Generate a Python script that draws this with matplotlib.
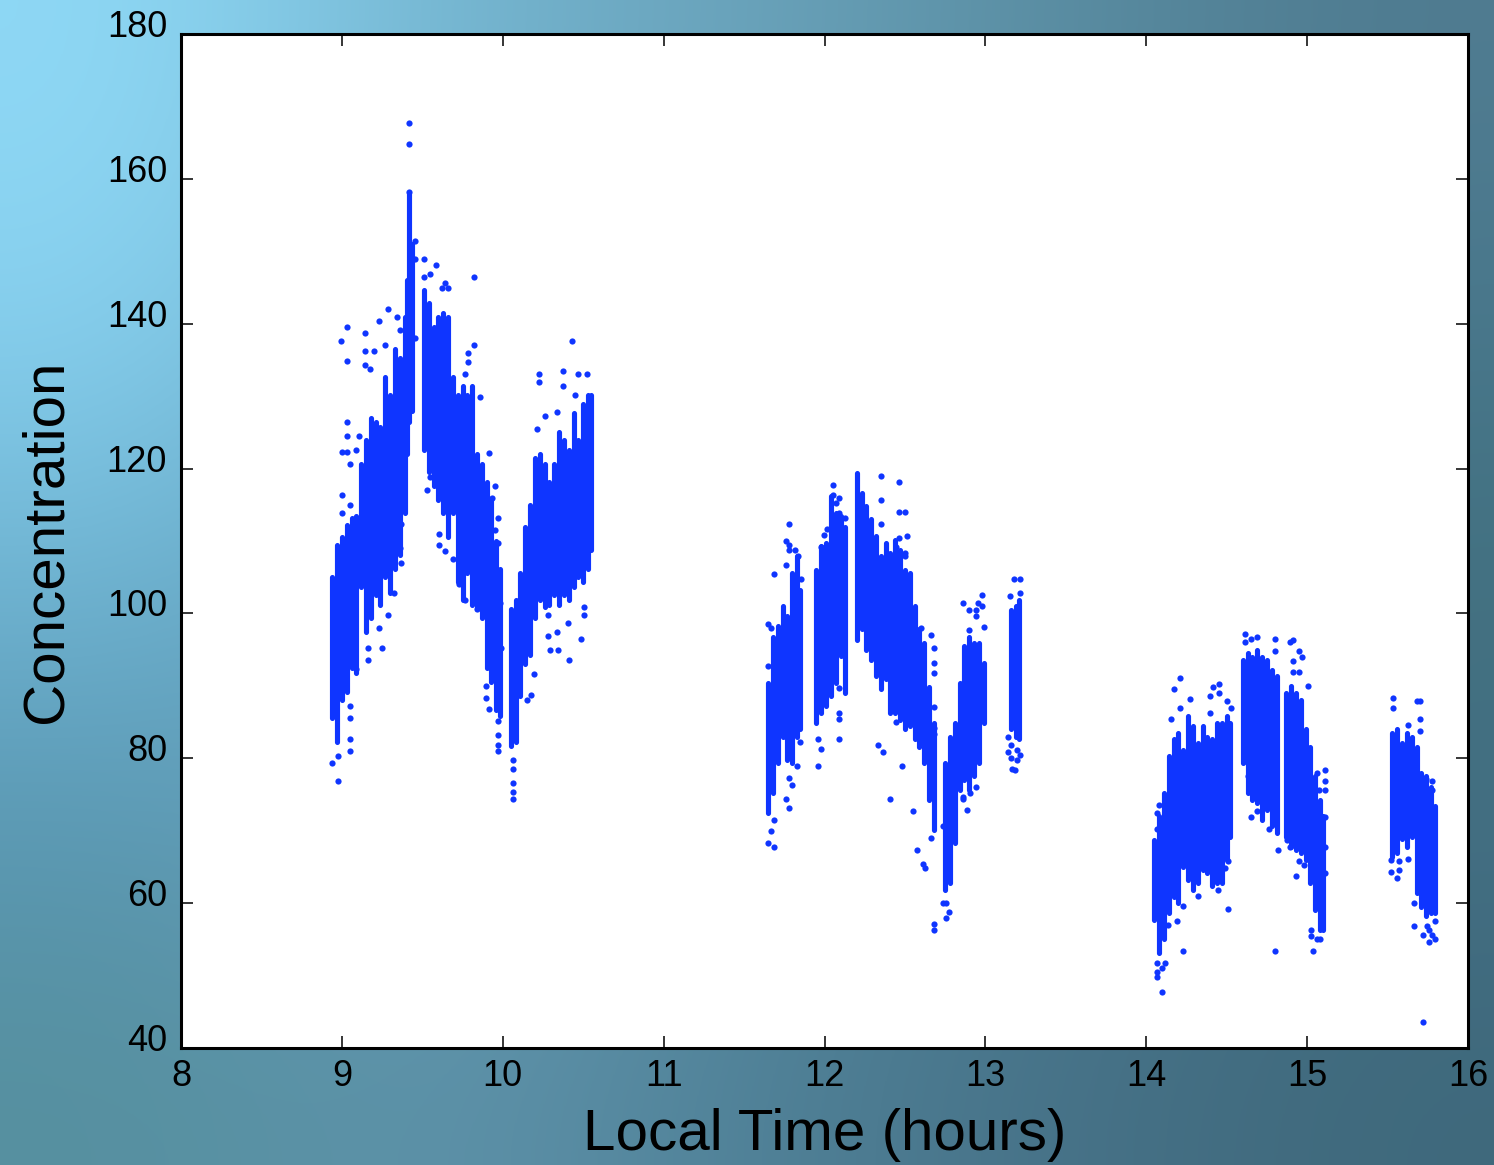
import numpy as np
import matplotlib
matplotlib.use("Agg")
import matplotlib.pyplot as plt

# Dense core of each time column: x, upper edge, lower edge
a_x = [8.94,8.97,9.0,9.03,9.06,9.09,9.12,9.15,9.18,9.21,9.24,9.27,9.3,9.33,9.36,9.39,9.405,9.42,9.435,9.51,9.54,9.57,9.6,9.63,9.66,9.69,9.72,9.75,9.78,9.81,9.84,9.87,9.9,9.93,9.96,9.98,10.05,10.08,10.11,10.14,10.17,10.2,10.23,10.26,10.29,10.32,10.35,10.38,10.41,10.44,10.47,10.5,10.53,10.55]
a_hi = [105,109.4,110.6,112.2,113.2,113.5,120.7,123.9,127,126.4,125.8,132.7,130.2,136.5,135.2,140.9,146,157.9,151,144.7,142.8,139.6,140.9,141.5,140.9,132.7,130.2,131.4,130.2,131.4,122,120.7,118.2,115.7,110,106.2,100.6,101.8,105.6,111.9,115,121.4,122,120.7,118.2,120.7,125.1,123.9,122.6,127.7,123.9,128.9,130.2,130.2]
a_lo = [85.5,82.3,88,89.2,92.4,91.8,103.7,97.4,99.3,102.5,101.2,105,102.8,106.2,108.1,113.8,122,126.4,128,122.6,119.5,117.6,115.7,113.8,110.6,113.8,104.3,101.8,105.6,101.2,100.6,99.3,92.4,90.5,86.7,85.8,81.7,82.3,88.6,93,94.3,99.3,101.8,100.9,101.2,102.5,101.2,102.5,101.8,103.7,105,104.4,106.2,108.8]

b_x = [11.65,11.68,11.71,11.74,11.77,11.8,11.83,11.85,11.95,11.98,12.01,12.04,12.07,12.1,12.13,12.2,12.23,12.26,12.29,12.32,12.35,12.38,12.41,12.44,12.47,12.5,12.53,12.56,12.59,12.62,12.65,12.68,12.75,12.78,12.81,12.84,12.87,12.9,12.93,12.96,12.99,13.16,13.19,13.21]
b_hi = [90.4,96.8,98.2,101,99.6,105.6,107.9,103.3,106,109.3,109.7,116.2,113.9,113.4,112,119.4,116.6,114.8,113,110.7,107.9,109.7,108.4,110.2,108.8,106,105.6,101,97.8,95.9,89.9,84.9,79.3,83,84.9,90.4,95.5,96.8,95.9,95.9,93.2,100.5,101,101.9]
b_lo = [72.4,75.2,79.3,83,79.8,79.3,83,84,84.9,86.2,87.2,88.6,90.4,94.1,89,96.4,97.8,95,93.6,91.3,89.5,90.9,86.2,86.2,85.3,84,84.4,82.6,81.6,79.3,74.3,70.1,61.8,62.8,68.3,75.6,77,75.6,77.5,79.3,84.9,84,83,82.6]

c_x = [14.05,14.08,14.11,14.14,14.17,14.2,14.23,14.26,14.29,14.32,14.35,14.38,14.41,14.44,14.47,14.5,14.52,14.6,14.63,14.66,14.69,14.72,14.75,14.78,14.81,14.87,14.9,14.93,14.96,14.99,15.02,15.05,15.08,15.1,15.53,15.56,15.59,15.62,15.65,15.68,15.71,15.74,15.77,15.795]
c_hi = [68.7,72,75.2,80.3,82.6,83.5,81.2,85.8,84.4,82.1,84.4,83,82.6,84.9,84.9,85.8,84.9,93.6,94.5,94,95,94,93.6,92.2,91.3,89,90,89,88.1,84,81.6,77.5,74.3,72,83.5,84,82.1,83.5,83,81.6,78,77.5,76.1,73.4]
c_lo = [57.7,53.1,55,58.6,60.9,60,65,63.2,61.8,62.8,64.6,64.1,62.3,62.8,62.8,66,69.2,79.3,75.2,74.3,73.8,71.5,72.9,70.6,69.7,69.2,67.8,67.4,66.9,66,62.8,59.1,56.3,56.3,66.4,66.9,68.8,67.8,69.2,61.4,59.5,58.2,58.6,58.6]

# Individually visible points around the dense core
a_px = [9.417,9.417,9.417,9.455,9.455,9.511,9.585,9.548,9.511,9.822,9.639,9.62,9.657,
        9.03,8.993,9.03,9.142,9.233,9.289,9.142,9.198,9.27,9.142,9.175,9.345,9.361,
        9.03,9.03,8.999,9.03,9.051,9.107,9.086,8.999,9.051,8.999,
        9.051,9.051,8.939,8.976,8.976,9.051,9.051,9.086,9.16,9.16,9.252,9.233,9.289,9.326,9.362,9.366,9.366,
        9.457,9.822,9.786,9.786,9.768,9.859,9.917,9.954,9.935,9.973,9.954,9.973,9.984,9.991,
        9.604,9.604,9.639,9.693,9.527,9.548,9.73,9.768,9.838,9.898,9.898,9.917,9.973,9.973,9.973,9.973,
        10.066,10.066,10.066,10.066,10.066,10.194,10.174,10.149,10.414,10.487,10.342,10.294,10.34,10.284,10.284,10.408,10.505,10.505,
        10.431,10.377,10.228,10.228,10.377,10.468,10.522,10.265,10.211,10.34,10.449]
a_py = [167.7,164.8,158.2,151.4,149,149,148.1,146.9,146.5,146.5,145.6,144.9,144.9,
        139.6,137.6,134.9,138.7,140.4,142,136.3,136.3,137.1,134.3,133.8,140.9,139.2,
        126.4,124.5,122.3,122.3,120.7,124.5,122.5,113.8,115,116.3,
        82.6,81,79.4,76.8,80.3,85.5,87.2,92.3,95.2,93.6,95.2,98,99.8,102.8,109,112.3,107,
        138,137.1,135.9,134.7,133,129.9,122.1,117.6,116,113.2,111.5,109.7,101.5,95.2,
        111,109.5,108.6,107.5,117,118.8,104,101.8,100.6,90,88.3,86.8,85.1,83.2,81.9,81,
        79.8,78.5,76.6,75.4,74.4,91.6,88.7,88,93.6,96.5,94.9,94.9,97.4,96.9,99.8,98.7,100.9,99.8,
        137.6,133.5,133,131.9,131.4,133,133,127.3,125.4,127.8,130.2]

b_px = [11.686,11.65,11.665,11.78,11.761,11.78,11.78,11.817,11.835,11.761,11.852,11.649,
        11.649,11.686,11.667,11.686,11.779,11.761,11.796,11.777,11.827,11.848,11.962,11.98,11.962,12.092,12.092,12.092,12.092,
        12.055,12.055,12.092,12.073,12.092,12.128,12.018,11.999,11.98,
        12.349,12.349,12.349,12.461,12.461,12.498,12.515,12.461,12.443,12.498,12.498,12.598,12.662,12.681,12.681,12.681,12.681,12.681,12.681,
        12.331,12.366,12.443,12.48,12.407,12.552,12.573,12.61,12.627,12.662,12.681,12.681,
        12.755,12.774,12.755,12.734,12.734,12.774,12.884,12.863,12.863,12.905,12.94,12.977,12.977,12.956,12.863,12.901,12.94,12.94,12.901,12.994,12.94,
        13.18,13.218,13.153,13.216,13.143,13.143,13.161,13.195,13.216,13.161,13.195,13.164,13.184]
b_py = [105.5,98.5,98,112.4,110,109.5,108.8,108.8,107.9,106.7,104.7,92.8,
        68.3,67.8,69.9,71.5,73.1,74.4,76.3,77.3,78.9,82.3,78.9,81.3,82.6,82.6,85.4,86.2,89.7,
        117.7,116.4,116,115.3,113.9,113.2,111.6,110.8,109.2,
        119,115.7,112.4,118.2,114,114,110.7,110.4,109.2,107.9,108.4,98,97,95.2,93.2,91.8,87.1,83.3,84.2,
        81.8,80.9,85,78.9,74.4,72.7,67.4,65.4,64.8,69,
        56.3,57.1,58,58.8,60,60,70.7,70.2,72.9,74.4,74.7,75.2,76,102.6,101,101.4,101.4,100.5,100.5,99.7,97.7,98.1,92.8,
        104.7,104.7,102.4,102.8,82.9,80.9,81.8,81.2,80.5,80,79.7,78.5,78.4]

c_px = [14.21,14.173,14.45,14.413,14.396,14.45,14.272,14.21,14.5,14.525,14.396,14.152,
        14.081,14.065,14.065,14.117,14.065,14.065,14.099,14.065,14.099,14.226,14.8,15.039,14.506,14.324,14.193,14.137,14.226,14.448,14.506,14.49,
        14.616,14.616,14.651,14.691,14.8,14.8,14.894,14.912,14.948,14.966,14.91,14.91,14.948,15.006,
        14.653,14.691,14.763,14.819,14.873,14.894,14.929,14.948,14.983,14.616,14.635,14.672,14.691,15.113,15.113,15.113,15.059,15.076,15.113,15.113,15.113,
        15.022,15.059,15.08,15.022,
        15.536,15.536,15.681,15.702,15.702,15.702,15.629,15.519,15.519,15.573,15.573,15.557,15.629,15.666,15.666,15.722,15.722,15.76,15.76,15.795,15.778,15.795,15.743,15.776,15.776,15.739]
c_py = [91.1,89.5,90.3,89.8,88.6,89,88.2,87,87.9,87,86.2,85.4,
        73.5,72.5,70.2,51.8,51.7,50.5,51,49.8,47.7,53.4,53.4,53.4,59.2,61,57.5,57,59.6,61.8,65.8,64.8,
        97.2,96,96.5,96.8,96.5,94.8,96,96.4,94.8,94,93.4,91.9,91.9,90,
        71.9,72.7,70.2,67.4,68.7,67.8,63.7,65.8,65.3,79.6,77.5,75.6,74.7,78.4,76.8,75.6,78,75.6,71.9,67.8,64.1,
        55.4,55,55,56.3,
        88.3,87,87.9,87.9,85.4,83.7,84.6,64.3,66,65.8,64.6,63.5,66.1,60,56.8,55.6,43.6,56.3,54.7,55,55.6,57.5,56.9,76.8,75.6,77.2]

x_ticks = list(range(8, 17))
y_ticks = list(range(40, 181, 20))
x_label = "Local Time (hours)"
y_label = "Concentration"

# Backdrop colours, rows top to bottom
backdrop = ["#8fd9f6 #74b5d0 #6aa3bb #5a8ea3 #4f7b90",
            "#86cfee #6aa9c4 #6199b0 #538698 #47768a",
            "#6fb4d2 #5d9ab6 #5a90a8 #4d7e92 #42707f",
            "#5a98b4 #6ba2ba #56899f #4a7a8f #436f83",
            "#56909f #5f93ab #4f8197 #477288 #3f697c"]

plt.rcParams["font.family"] = ["Liberation Sans", "DejaVu Sans"]
fig = plt.figure(figsize=(14.94, 11.65), dpi=100)

bg = fig.add_axes([0, 0, 1, 1], zorder=0)
grid = np.array([[matplotlib.colors.to_rgb(c) for c in row.split()] for row in backdrop])
bg.imshow(grid, aspect="auto", interpolation="bicubic", extent=(0, 1, 0, 1))
bg.axis("off")

ax = fig.add_axes([181 / 1494, (1165 - 1048) / 1165, 1287 / 1494, 1014 / 1165], zorder=1)
blue = "#0f35ff"
for xs, hi, lo in ((a_x, a_hi, a_lo), (b_x, b_hi, b_lo), (c_x, c_hi, c_lo)):
    ax.vlines(xs, lo, hi, color=blue, lw=3.7, capstyle="round")
for xs, ys in ((a_px, a_py), (b_px, b_py), (c_px, c_py)):
    ax.scatter(xs, ys, s=20, color=blue, linewidths=0, zorder=3)

ax.set_xlim(8, 16)
ax.set_ylim(40, 180)
ax.set_xticks(x_ticks)
ax.set_yticks(y_ticks)
ax.tick_params(direction="in", length=8.5, width=1.1, top=True, right=True, labelsize=26)
ax.tick_params(axis="y", pad=10)
ax.tick_params(axis="x", pad=8)
for lab in ax.get_yticklabels():
    lab.set_verticalalignment("bottom")
    lab.set_transform(lab.get_transform() + matplotlib.transforms.ScaledTranslation(0, -0.11, fig.dpi_scale_trans))
for s in ax.spines.values():
    s.set_linewidth(2.2)
ax.set_xlabel(x_label, fontsize=42, labelpad=10)
ax.set_ylabel(y_label, fontsize=42, labelpad=24)

fig.savefig("out.png", dpi=100)
